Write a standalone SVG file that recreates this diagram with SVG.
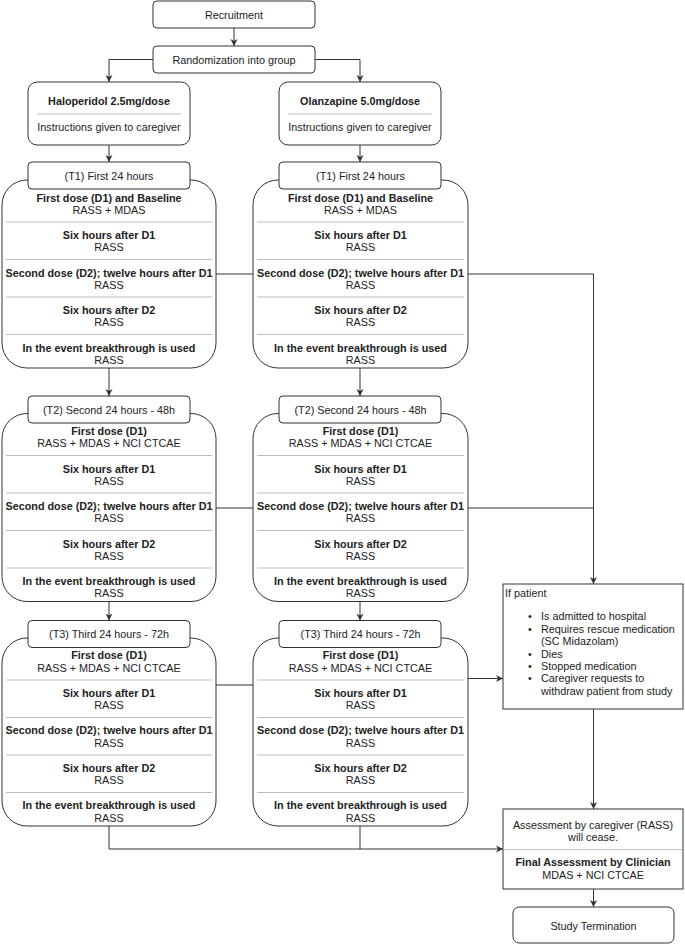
<svg xmlns="http://www.w3.org/2000/svg" width="685" height="945" viewBox="0 0 685 945">
<style>
.box{fill:#fff;stroke:#333;stroke-width:1}
.sep{stroke:#bdbdbd;stroke-width:1}
.t{font-family:"Liberation Sans",Arial,sans-serif;font-size:10.8px;fill:#222;text-anchor:middle}
.b{font-weight:bold}
.l{text-anchor:start}
.edge{fill:none;stroke:#333;stroke-width:1}
</style>
<defs>
<marker id="arr" markerWidth="8" markerHeight="8" refX="7" refY="4" orient="auto" markerUnits="userSpaceOnUse">
<path d="M0,0.5 L7,4 L0,7.5 L2,4 z" fill="#333"/>
</marker>
</defs>
<rect width="685" height="945" fill="#fff"/>
<g id="connectors">
<path class="edge" d="M234,28 V46" marker-end="url(#arr)"/>
<path class="edge" d="M153,59.5 H109 V82" marker-end="url(#arr)"/>
<path class="edge" d="M315,59.5 H360 V82" marker-end="url(#arr)"/>
<path class="edge" d="M109,145 V162" marker-end="url(#arr)"/>
<path class="edge" d="M360,145 V162" marker-end="url(#arr)"/>
<path class="edge" d="M109,368 V396" marker-end="url(#arr)"/>
<path class="edge" d="M360,368 V396" marker-end="url(#arr)"/>
<path class="edge" d="M109,601 V620.5" marker-end="url(#arr)"/>
<path class="edge" d="M360,601 V620.5" marker-end="url(#arr)"/>
<path class="edge" d="M216,274 H253"/>
<path class="edge" d="M468,274 H593.5 V584" marker-end="url(#arr)"/>
<path class="edge" d="M216,508 H253"/>
<path class="edge" d="M468,508 H593.5"/>
<path class="edge" d="M216,685 H253"/>
<path class="edge" d="M468,678.5 H503" marker-end="url(#arr)"/>
<path class="edge" d="M109,826 V849 H503" marker-end="url(#arr)"/>
<path class="edge" d="M360,826 V849"/>
<path class="edge" d="M593.5,709 V809" marker-end="url(#arr)"/>
<path class="edge" d="M593.5,889 V907" marker-end="url(#arr)"/>
</g>

<g id="recruitment">
<rect class="box" x="153" y="1" width="162" height="27" rx="4"/>
<text class="t" x="234" y="18.5">Recruitment</text>
</g>
<g id="randomization">
<rect class="box" x="153" y="46" width="162" height="27" rx="4"/>
<text class="t" x="234" y="63.5">Randomization into group</text>
</g>
<g id="haloperidol">
<rect class="box" x="28" y="82" width="162" height="63" rx="9"/>
<text class="t b" x="109" y="105">Haloperidol 2.5mg/dose</text>
<line class="sep" x1="37" y1="114" x2="181" y2="114"/>
<text class="t" x="109" y="131">Instructions given to caregiver</text>
</g>
<g id="olanzapine">
<rect class="box" x="279" y="82" width="162" height="63" rx="9"/>
<text class="t b" x="360" y="105">Olanzapine 5.0mg/dose</text>
<line class="sep" x1="288" y1="114" x2="432" y2="114"/>
<text class="t" x="360" y="131">Instructions given to caregiver</text>
</g>

<g id="t1-haloperidol" transform="translate(2,180)">
<rect class="box" x="0" y="0" width="214" height="188" rx="25"/>
<rect class="box" x="26" y="-18" width="162" height="27" rx="4"/>
<text class="t" x="107" y="0">(T1) First 24 hours</text>
<text class="t b" x="107" y="21.5">First dose (D1) and Baseline</text>
<text class="t" x="107" y="33.5">RASS + MDAS</text>
<line class="sep" x1="4" y1="42" x2="210" y2="42"/>
<text class="t b" x="107" y="59">Six hours after D1</text>
<text class="t" x="107" y="71">RASS</text>
<line class="sep" x1="4" y1="79.5" x2="210" y2="79.5"/>
<text class="t b" x="107" y="96.5">Second dose (D2); twelve hours after D1</text>
<text class="t" x="107" y="108.5">RASS</text>
<line class="sep" x1="4" y1="117" x2="210" y2="117"/>
<text class="t b" x="107" y="134">Six hours after D2</text>
<text class="t" x="107" y="146">RASS</text>
<line class="sep" x1="4" y1="154.5" x2="210" y2="154.5"/>
<text class="t b" x="107" y="171.5">In the event breakthrough is used</text>
<text class="t" x="107" y="183.5">RASS</text>
</g>
<g id="t1-olanzapine" transform="translate(253,180)">
<rect class="box" x="0" y="0" width="215" height="188" rx="25"/>
<rect class="box" x="26" y="-18" width="162" height="27" rx="4"/>
<text class="t" x="107.5" y="0">(T1) First 24 hours</text>
<text class="t b" x="107.5" y="21.5">First dose (D1) and Baseline</text>
<text class="t" x="107.5" y="33.5">RASS + MDAS</text>
<line class="sep" x1="4" y1="42" x2="211" y2="42"/>
<text class="t b" x="107.5" y="59">Six hours after D1</text>
<text class="t" x="107.5" y="71">RASS</text>
<line class="sep" x1="4" y1="79.5" x2="211" y2="79.5"/>
<text class="t b" x="107.5" y="96.5">Second dose (D2); twelve hours after D1</text>
<text class="t" x="107.5" y="108.5">RASS</text>
<line class="sep" x1="4" y1="117" x2="211" y2="117"/>
<text class="t b" x="107.5" y="134">Six hours after D2</text>
<text class="t" x="107.5" y="146">RASS</text>
<line class="sep" x1="4" y1="154.5" x2="211" y2="154.5"/>
<text class="t b" x="107.5" y="171.5">In the event breakthrough is used</text>
<text class="t" x="107.5" y="183.5">RASS</text>
</g>

<g id="t2-haloperidol" transform="translate(2,413.5)">
<rect class="box" x="0" y="0" width="214" height="188" rx="25"/>
<rect class="box" x="26" y="-17.5" width="162" height="27" rx="4"/>
<text class="t" x="107" y="0.5">(T2) Second 24 hours - 48h</text>
<text class="t b" x="107" y="21.5">First dose (D1)</text>
<text class="t" x="107" y="33.5">RASS + MDAS + NCI CTCAE</text>
<line class="sep" x1="4" y1="42" x2="210" y2="42"/>
<text class="t b" x="107" y="59">Six hours after D1</text>
<text class="t" x="107" y="71">RASS</text>
<line class="sep" x1="4" y1="79.5" x2="210" y2="79.5"/>
<text class="t b" x="107" y="96.5">Second dose (D2); twelve hours after D1</text>
<text class="t" x="107" y="108.5">RASS</text>
<line class="sep" x1="4" y1="117" x2="210" y2="117"/>
<text class="t b" x="107" y="134">Six hours after D2</text>
<text class="t" x="107" y="146">RASS</text>
<line class="sep" x1="4" y1="154.5" x2="210" y2="154.5"/>
<text class="t b" x="107" y="171.5">In the event breakthrough is used</text>
<text class="t" x="107" y="183.5">RASS</text>
</g>
<g id="t2-olanzapine" transform="translate(253,413.5)">
<rect class="box" x="0" y="0" width="215" height="188" rx="25"/>
<rect class="box" x="26" y="-17.5" width="162" height="27" rx="4"/>
<text class="t" x="107.5" y="0.5">(T2) Second 24 hours - 48h</text>
<text class="t b" x="107.5" y="21.5">First dose (D1)</text>
<text class="t" x="107.5" y="33.5">RASS + MDAS + NCI CTCAE</text>
<line class="sep" x1="4" y1="42" x2="211" y2="42"/>
<text class="t b" x="107.5" y="59">Six hours after D1</text>
<text class="t" x="107.5" y="71">RASS</text>
<line class="sep" x1="4" y1="79.5" x2="211" y2="79.5"/>
<text class="t b" x="107.5" y="96.5">Second dose (D2); twelve hours after D1</text>
<text class="t" x="107.5" y="108.5">RASS</text>
<line class="sep" x1="4" y1="117" x2="211" y2="117"/>
<text class="t b" x="107.5" y="134">Six hours after D2</text>
<text class="t" x="107.5" y="146">RASS</text>
<line class="sep" x1="4" y1="154.5" x2="211" y2="154.5"/>
<text class="t b" x="107.5" y="171.5">In the event breakthrough is used</text>
<text class="t" x="107.5" y="183.5">RASS</text>
</g>

<g id="t3-haloperidol" transform="translate(2,638)">
<rect class="box" x="0" y="0" width="214" height="188" rx="25"/>
<rect class="box" x="26" y="-17.5" width="162" height="27" rx="4"/>
<text class="t" x="107" y="0">(T3) Third 24 hours - 72h</text>
<text class="t b" x="107" y="20.5">First dose (D1)</text>
<text class="t" x="107" y="33.5">RASS + MDAS + NCI CTCAE</text>
<line class="sep" x1="4" y1="42" x2="210" y2="42"/>
<text class="t b" x="107" y="58.5">Six hours after D1</text>
<text class="t" x="107" y="71">RASS</text>
<line class="sep" x1="4" y1="79.5" x2="210" y2="79.5"/>
<text class="t b" x="107" y="96">Second dose (D2); twelve hours after D1</text>
<text class="t" x="107" y="108.5">RASS</text>
<line class="sep" x1="4" y1="117" x2="210" y2="117"/>
<text class="t b" x="107" y="133.5">Six hours after D2</text>
<text class="t" x="107" y="146">RASS</text>
<line class="sep" x1="4" y1="154.5" x2="210" y2="154.5"/>
<text class="t b" x="107" y="171">In the event breakthrough is used</text>
<text class="t" x="107" y="183.5">RASS</text>
</g>
<g id="t3-olanzapine" transform="translate(253,638)">
<rect class="box" x="0" y="0" width="215" height="188" rx="25"/>
<rect class="box" x="26" y="-17.5" width="162" height="27" rx="4"/>
<text class="t" x="107.5" y="0">(T3) Third 24 hours - 72h</text>
<text class="t b" x="107.5" y="20.5">First dose (D1)</text>
<text class="t" x="107.5" y="33.5">RASS + MDAS + NCI CTCAE</text>
<line class="sep" x1="4" y1="42" x2="211" y2="42"/>
<text class="t b" x="107.5" y="58.5">Six hours after D1</text>
<text class="t" x="107.5" y="71">RASS</text>
<line class="sep" x1="4" y1="79.5" x2="211" y2="79.5"/>
<text class="t b" x="107.5" y="96">Second dose (D2); twelve hours after D1</text>
<text class="t" x="107.5" y="108.5">RASS</text>
<line class="sep" x1="4" y1="117" x2="211" y2="117"/>
<text class="t b" x="107.5" y="133.5">Six hours after D2</text>
<text class="t" x="107.5" y="146">RASS</text>
<line class="sep" x1="4" y1="154.5" x2="211" y2="154.5"/>
<text class="t b" x="107.5" y="171">In the event breakthrough is used</text>
<text class="t" x="107.5" y="183.5">RASS</text>
</g>

<g id="if-patient">
<rect class="box" x="503" y="584" width="180" height="125"/>
<text class="t l" x="505" y="597">If patient</text>
<text class="t" x="530" y="620">•</text>
<text class="t l" x="541" y="620">Is admitted to hospital</text>
<text class="t" x="530" y="632.5">•</text>
<text class="t l" x="541" y="632.5">Requires rescue medication</text>
<text class="t l" x="541" y="645">(SC Midazolam)</text>
<text class="t" x="530" y="657.5">•</text>
<text class="t l" x="541" y="657.5">Dies</text>
<text class="t" x="530" y="670">•</text>
<text class="t l" x="541" y="670">Stopped medication</text>
<text class="t" x="530" y="682">•</text>
<text class="t l" x="541" y="682">Caregiver requests to</text>
<text class="t l" x="541" y="694.5">withdraw patient from study</text>
</g>

<g id="final-assessment">
<rect class="box" x="503" y="809" width="180" height="80"/>
<text class="t" x="593" y="828.5">Assessment by caregiver (RASS)</text>
<text class="t" x="593" y="841">will cease.</text>
<line class="sep" x1="503.5" y1="849.5" x2="682.5" y2="849.5"/>
<text class="t b" x="593" y="866">Final Assessment by Clinician</text>
<text class="t" x="593" y="878.5">MDAS + NCI CTCAE</text>
</g>

<g id="study-termination">
<rect class="box" x="513" y="907" width="161" height="36" rx="6"/>
<text class="t" x="593.5" y="929.5">Study Termination</text>
</g>
</svg>
